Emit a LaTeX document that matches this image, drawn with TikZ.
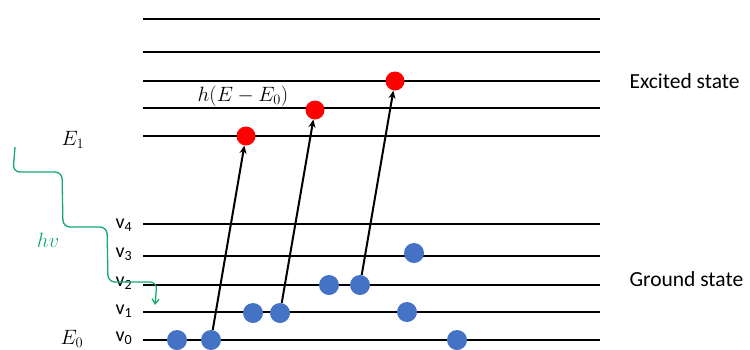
\documentclass[tikz,border=0pt]{standalone}
\usepackage{amsmath, amssymb}
\usepackage{fontspec}
\newfontfamily\calfont{Carlito}
\usetikzlibrary{arrows.meta}
\definecolor{dotblue}{RGB}{68,114,196}
\definecolor{wavegreen}{RGB}{20,170,110}

\tikzset{
  level/.style={line width=1.6pt},
  gdot/.style={circle, fill=dotblue, inner sep=0pt, minimum size=20pt},
  edot/.style={circle, fill=red, inner sep=0pt, minimum size=19pt},
  jump/.style={line width=2pt, -{Stealth[length=8pt,width=7pt]}},
  vlab/.style={font=\calfont\fontsize{20}{22}\selectfont},
  mlab/.style={font=\fontsize{22.5}{25}\selectfont},
  slab/.style={font=\calfont\fontsize{21.5}{24}\selectfont, anchor=west},
}

\begin{document}
\begin{tikzpicture}[x=1pt,y=-1pt]
\useasboundingbox (0,0) rectangle (750,349);
% excited levels
\draw[level] (143,19) -- (600,19);
\draw[level] (143,52) -- (600,52);
\draw[level] (143,81) -- (600,81);
\draw[level] (143,108) -- (600,108);
\draw[level] (143,136) -- (600,136);
% ground levels
\draw[level] (143,224) -- (600,224);
\draw[level] (143,256) -- (600,256);
\draw[level] (143,285) -- (600,285);
\draw[level] (143,312) -- (600,312);
\draw[level] (143,340) -- (600,340);

\node[vlab] (v4) at (124,225) {v\textsubscript{4}};
\node[vlab] (v3) at (124,254) {v\textsubscript{3}};
\node[vlab] (v2) at (124,283) {v\textsubscript{2}};
\node[vlab] (v1) at (124,311) {v\textsubscript{1}};
\node[vlab] (v0) at (124,338) {v\textsubscript{0}};

\node[mlab] (e1) at (73,140) {$E_1$};
\node[mlab] (e0) at (72,339) {$E_0$};
\node[mlab] (hdiff) at (243,96) {$h(E-E_0)$};

\node[slab] (exc) at (626,81) {Excited state};
\node[slab] (gnd) at (626,279) {Ground state};

% red dots
\node[edot] (r1) at (246,136) {};
\node[edot] (r2) at (315,110) {};
\node[edot] (r3) at (395,81) {};

% blue dots
\node[gdot] (b1) at (177,340) {};
\node[gdot] (b2) at (211,340) {};
\node[gdot] (b3) at (253,313) {};
\node[gdot] (b4) at (280,313) {};
\node[gdot] (b5) at (329,285) {};
\node[gdot] (b6) at (360,285) {};
\node[gdot] (b7) at (414,253) {};
\node[gdot] (b8) at (407,312) {};
\node[gdot] (b9) at (457,340) {};

\draw[jump] (b2) -- (r1);
\draw[jump] (b4) -- (r2);
\draw[jump] (b6) -- (r3);

% photon
\draw[wavegreen, line width=1.3pt, rounded corners=7pt, -{Straight Barb[length=5pt,width=7pt]}]
  (15,147) -- (13,172) -- (62,172) -- (63,227) -- (107,227) -- (108,282) -- (157,282) -- (155,305);
\node[wavegreen, mlab] (hv) at (48,240) {$hv$};
\end{tikzpicture}
\end{document}
